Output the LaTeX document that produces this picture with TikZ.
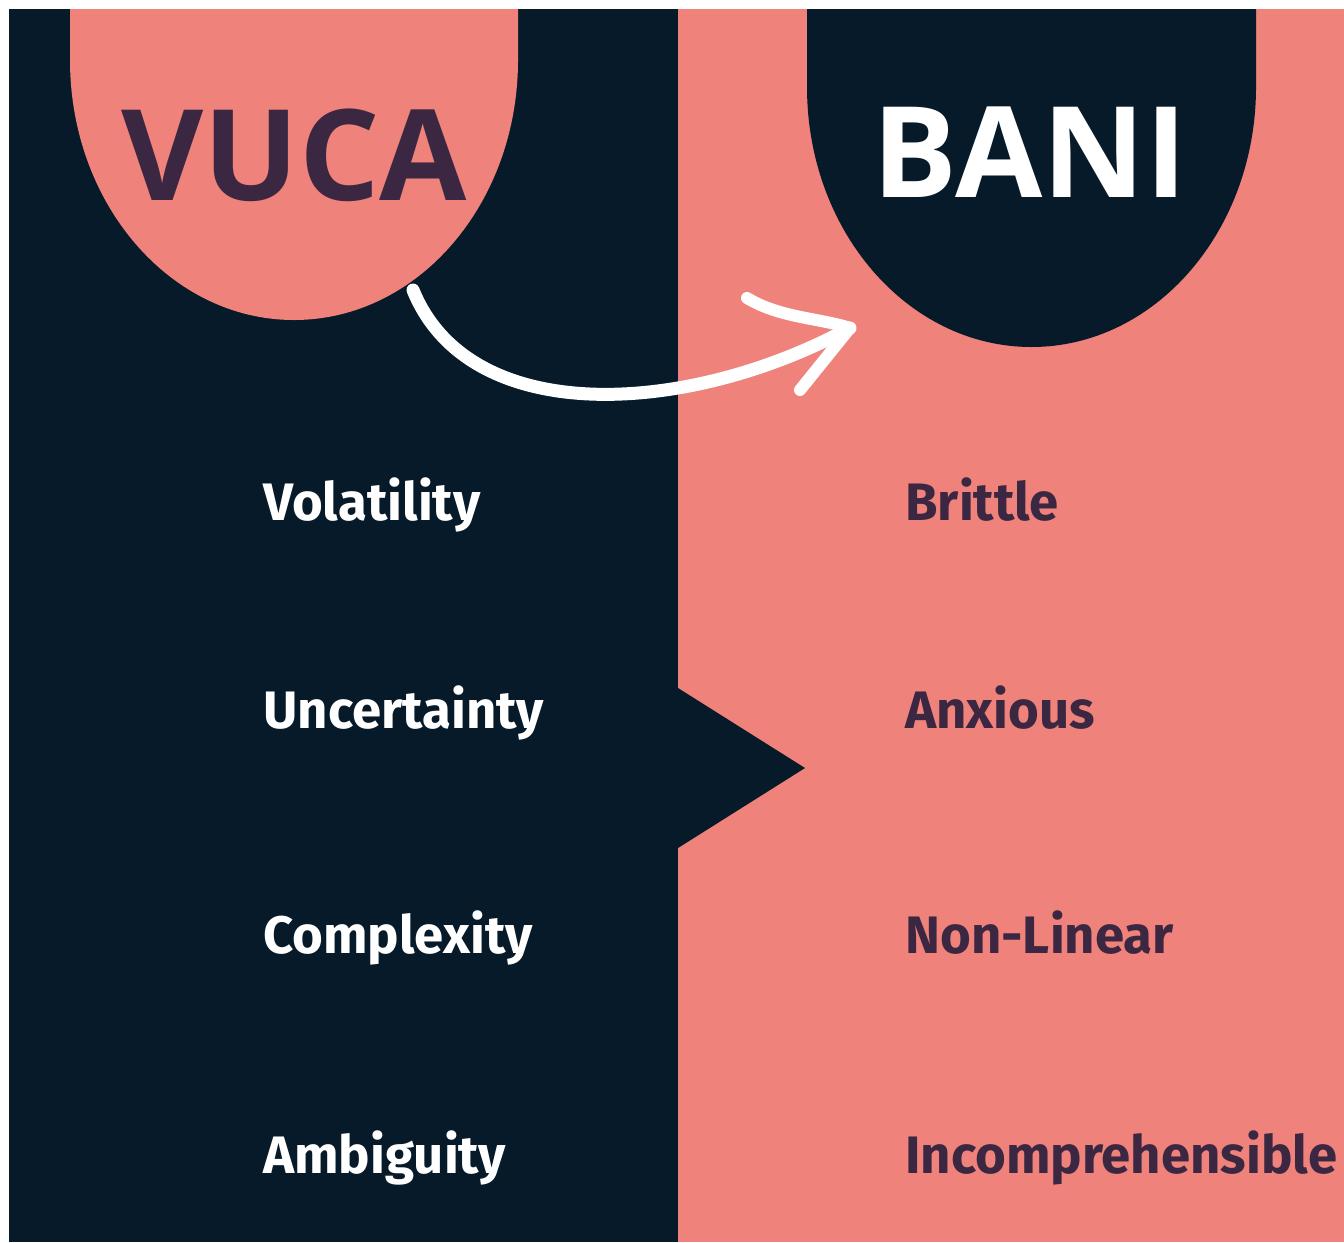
\documentclass[tikz,border=0pt]{standalone}
\usepackage{fontspec}
\setmainfont{Fira Sans}
\newfontfamily\headfont{Open Sans}
\usetikzlibrary{positioning}
\definecolor{navy}{HTML}{061A29}
\definecolor{salmon}{HTML}{EF827B}
\definecolor{plum}{HTML}{3B2741}

\begin{document}
\begin{tikzpicture}[x=0.02cm,y=-0.02cm,
	heading/.style={font=\headfont\fontsize{72}{78}\selectfont\bfseries,inner sep=0pt,anchor=base},
	term/.style={font=\fontsize{30}{34}\selectfont\bfseries,inner sep=0pt,anchor=base west},
	swoosh/.style={white,line width=0.26cm,line cap=round,line join=round}]
		\useasboundingbox (0,0) rectangle (1344,1242);
		\fill[white] (0,0) rectangle (1344,1242);
	
		% two halves
		\fill[navy] (9,9) rectangle (678,1242);
		\fill[salmon] (678,9) rectangle (1344,1242);
		\fill[navy] (678,688) -- (805,768) -- (678,848) -- cycle;
		
		% tabs at the top
		\fill[salmon] (70,9) -- (70,60) .. controls (70,203.5) and (170,320) .. (294,320)
			.. controls (418,320) and (518,203.5) .. (518,60) -- (518,9) -- cycle;
		\fill[navy] (807,9) -- (807,87) .. controls (807,230.5) and (907.5,347) .. (1031.5,347)
			.. controls (1155.5,347) and (1256,230.5) .. (1256,87) -- (1256,9) -- cycle;
		
		\node[heading,text=plum] (vuca) at (294,200) {VUCA};
		\node[heading,text=white] (bani) at (1030,197) {BANI};
		
		% arrow
		\coordinate (arrowstart) at (413,290);
		\coordinate (arrowtip) at (850,328);
		\coordinate (barbup) at (747,298);
		\coordinate (barbdown) at (800,390);
		\draw[swoosh] (arrowstart) .. controls (470,430) and (690,415) .. (arrowtip);
		\draw[swoosh,line width=0.24cm] (barbup) .. controls (780,318) and (820,318) .. (arrowtip) -- (barbdown);
		
		\node[term,text=white] (volatility) at (263,520) {Volatility};
		\node[term,text=white] (uncertainty) at (263,728) {Uncertainty};
		\node[term,text=white] (complexity) at (263,953) {Complexity};
		\node[term,text=white] (ambiguity) at (263,1173) {Ambiguity};
		
		\node[term,text=plum] (brittle) at (905,520) {Brittle};
		\node[term,text=plum] (anxious) at (905,728) {Anxious};
		\node[term,text=plum] (nonlinear) at (905,953) {Non-Linear};
		\node[term,text=plum] (incomprehensible) at (905,1173) {Incomprehensible};
	\end{tikzpicture}
\end{document}
